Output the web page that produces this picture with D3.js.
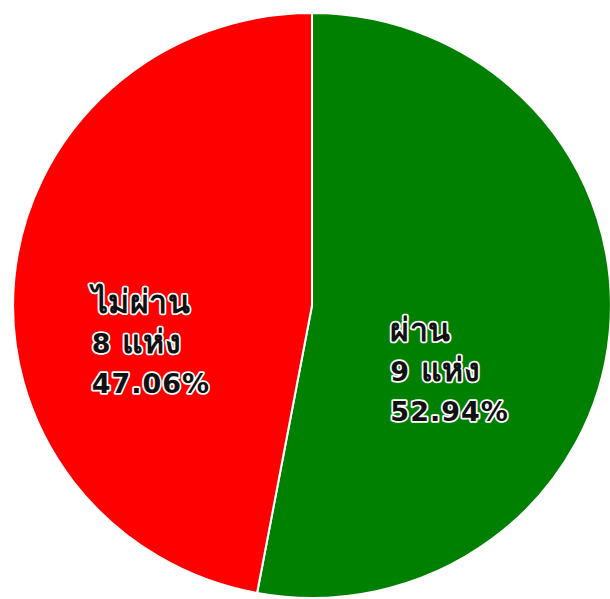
<!DOCTYPE html>
<html>
<head>
  <meta charset="utf-8">
  <title>Pie</title>
  <script src="https://cdn.jsdelivr.net/npm/d3@7"></script>
  <style>
    body { margin: 0; background: #fff; }
    .label {
      font-family: "DejaVu Sans", sans-serif;
      font-size: 27px;
      font-weight: bold;
      letter-spacing: 1px;
      fill: #111;
      stroke: #fff;
      stroke-width: 3.5px;
      stroke-linejoin: round;
      paint-order: stroke;
    }
    .thai { font-size: 32px; letter-spacing: 0.5px; }
  </style>
</head>
<body>
<script>
  // data
  var names = ["ผ่าน", "ไม่ผ่าน"];
  var counts = [9, 8];
  var unit = "แห่ง";
  var colors = ["#008000", "#ff0000"];

  var width = 610, height = 599;
  var cx = 312, cy = 305.5, radius = 292.5;
  var sx = 1.022; // the original pie is a bit wider than tall

  var total = d3.sum(counts);

  var svg = d3.select("body").append("svg")
      .attr("width", width)
      .attr("height", height);

  var pieG = svg.append("g").attr("transform", "translate(" + cx + "," + cy + ") scale(" + sx + ",1)");
  var labelG = svg.append("g").attr("transform", "translate(" + cx + "," + cy + ")");

  var pie = d3.pie().sort(null).value(function(d) { return d; });
  var arcs = pie(counts);

  var arc = d3.arc().innerRadius(0).outerRadius(radius);
  var labelArc = d3.arc().innerRadius(150).outerRadius(150);

  pieG.selectAll("path")
    .data(arcs)
    .enter().append("path")
    .attr("d", arc)
    .attr("fill", function(d, i) { return colors[i]; })
    .attr("stroke", "#fff")
    .attr("stroke-width", 2);

  // labels: name, count, percent
  var labels = labelG.selectAll("text")
    .data(arcs)
    .enter().append("text")
    .attr("class", "label")
    .attr("transform", function(d) {
      var c = labelArc.centroid(d);
      return "translate(" + (c[0] - 71) + "," + (c[1] + 21.5) + ")";
    });

  labels.each(function(d, i) {
    var t = d3.select(this);
    t.append("tspan").attr("class", "thai").attr("x", 0).attr("y", 0).text(names[i]);
    t.append("tspan").attr("x", 0).attr("y", 40).text(counts[i] + " ");
    t.append("tspan").attr("class", "thai").text(unit);
    t.append("tspan").attr("x", 0).attr("y", 80).text((counts[i] / total * 100).toFixed(2) + "%");
  });
</script>
</body>
</html>
